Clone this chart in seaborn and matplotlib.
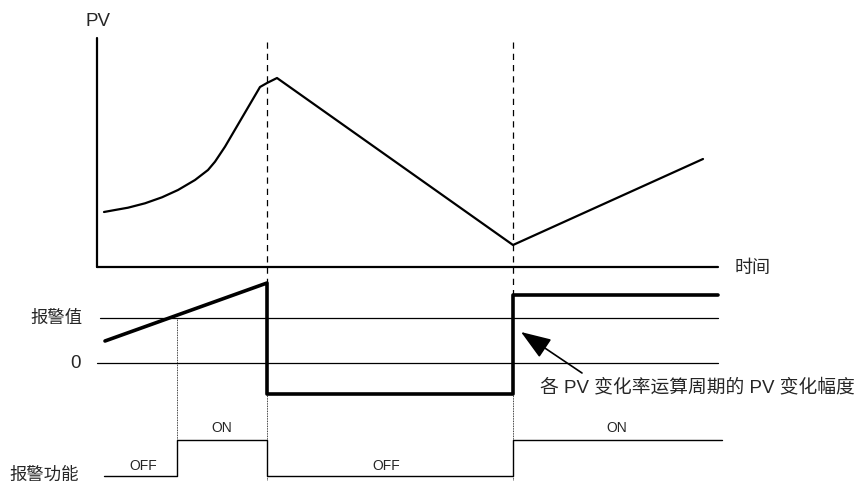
import matplotlib
matplotlib.use("Agg")
import matplotlib.pyplot as plt
import seaborn as sns
import pandas as pd

# ---- data (diagram units: x = time, y = vertical position, top = 0) ----
pv_time = [104, 115, 128, 145, 162, 178, 195, 208, 215, 225, 260, 267, 277, 513, 703]
pv_value = [212, 210, 207.7, 203.3, 197.3, 190, 180, 170, 161.7, 146.7, 87, 83, 78, 245, 159]

rate_time = [105, 267, 267, 513, 513, 718]
rate_value = [341, 283, 394, 394, 295, 295]

alarm_time = [104, 177, 177, 267, 267, 513, 513, 722]
alarm_state = [476, 476, 440, 440, 476, 476, 440, 440]

event_times = [267, 513]
event_tops = [283, 295]
alarm_set_level = 318
zero_level = 363
alarm_on_time = 177

state_labels = ["OFF", "ON", "OFF", "ON"]
state_label_x = [143, 222, 386, 617]
state_label_y = [466, 428, 466, 428]

sns.set_theme(style="white")
plt.rcParams["font.family"] = ["Liberation Sans", "Noto Sans CJK SC", "DejaVu Sans"]

fig = plt.figure(figsize=(8.66, 4.83), dpi=100)
ax = fig.add_axes([0, 0, 1, 1])
ax.set_xlim(0, 866)
ax.set_ylim(483, 0)
ax.axis("off")

# dashed event lines
for t, top in zip(event_times, event_tops):
    ax.plot([t, t], [42, top], color="black", lw=0.9, ls=(0, (5, 4)))
    ax.plot([t, t], [394, 480], color="black", lw=0.6, ls=(0, (1, 1)))

# PV axes
ax.plot([97, 97], [38, 267], color="black", lw=1.6)
ax.plot([97, 718], [267, 267], color="black", lw=1.6)
ax.text(98, 21, "PV", fontsize=13.5, ha="center", va="center")
ax.text(735, 268, "时间", fontsize=13, ha="left", va="center")

# PV curve
df_pv = pd.DataFrame({"t": pv_time, "v": pv_value})
sns.lineplot(data=df_pv, x="t", y="v", sort=False, estimator=None, color="black", lw=1.6, ax=ax)

# reference levels
ax.plot([100, 718], [alarm_set_level] * 2, color="black", lw=0.9)
ax.plot([97, 718], [zero_level] * 2, color="black", lw=0.9)
ax.text(83, alarm_set_level, "报警值", fontsize=12.5, ha="right", va="center")
ax.text(81, zero_level, "0", fontsize=13.5, ha="right", va="center")

# dotted line from crossing to alarm on
ax.plot([alarm_on_time, alarm_on_time], [alarm_set_level, 440], color="black", lw=0.6, ls=(0, (1, 1)))

# rate of change (thick)
df_rate = pd.DataFrame({"t": rate_time, "v": rate_value})
sns.lineplot(data=df_rate, x="t", y="v", sort=False, estimator=None, color="black", lw=2.6, ax=ax)

# alarm function
df_alarm = pd.DataFrame({"t": alarm_time, "v": alarm_state})
sns.lineplot(data=df_alarm, x="t", y="v", sort=False, estimator=None, color="black", lw=1.0, ax=ax)

for s, x, y in zip(state_labels, state_label_x, state_label_y):
    ax.text(x, y, s, fontsize=10, ha="center", va="center")
ax.text(9, 475, "报警功能", fontsize=12.5, ha="left", va="center")

# annotation arrow
ax.annotate("", xy=(521, 332), xytext=(582, 373),
            arrowprops=dict(arrowstyle="-|>,head_length=0.55,head_width=0.2", color="black",
                            lw=1.2, mutation_scale=34, shrinkA=0, shrinkB=0))
ax.text(540, 387, "各 PV 变化率运算周期的 PV 变化幅度", fontsize=13.5, ha="left", va="center")

ax.set_xlabel("")
ax.set_ylabel("")
fig.savefig("out.png", dpi=100, facecolor="white")
